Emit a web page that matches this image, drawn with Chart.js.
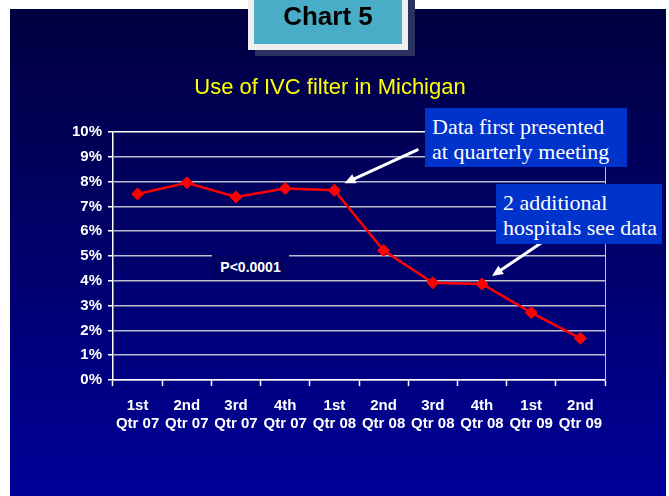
<!DOCTYPE html>
<html lang="en">
<head>
<meta charset="UTF-8">
<title>Chart 5</title>
<script src="https://cdn.jsdelivr.net/npm/chart.js@4.4.0/dist/chart.umd.min.js"></script>
<style>
html, body { margin: 0; padding: 0; background: #fff; }
#slide {
    position: relative;
    width: 669px;
    height: 496px;
    overflow: hidden;
    background: #fff;
}
#bg {
    position: absolute;
    left: 10px; top: 9px; width: 656px; height: 487px;
    background: linear-gradient(to bottom, #000040 0%, #00005e 35%, #000099 100%);
}
#myChart { position: absolute; left: 0; top: 0; }
#badge {
    position: absolute;
    left: 248px; top: -8px; width: 148px; height: 46px;
    background: #4aadc7;
    border: 6px solid #efefef;
    box-shadow: 7px 6px 0 #2a3060;
    font: bold 26px Arial, "Liberation Sans", sans-serif;
    color: #000;
    text-align: center;
    line-height: 36px;
}
#title {
    position: absolute;
    left: 0; width: 660px; top: 74px;
    text-align: center;
    color: #ffff00;
    font: 22px Arial, "Liberation Sans", sans-serif;
}
.note {
    position: absolute;
    background: #0033cc;
    color: #fff;
    font: 22px "Times New Roman", "Liberation Serif", serif;
    line-height: 25px;
    padding: 6px 7px;
    box-sizing: border-box;
    white-space: nowrap;
}
#pval {
    position: absolute;
    left: 212px; top: 255px; width: 77px; height: 25px;
    background: #000062;
    color: #fff;
    font: bold 14px Arial, "Liberation Sans", sans-serif;
    line-height: 25px;
    text-align: center;
}
</style>
</head>
<body>
<div id="slide">
    <div id="bg"></div>
    <canvas id="myChart" width="669" height="496"></canvas>
    <div id="badge">Chart 5</div>
    <div id="title">Use of IVC filter in Michigan</div>
    <div id="pval">P&lt;0.0001</div>
    <div class="note" style="left:425px; top:108px; width:202px; height:59px;">Data first presented<br>at quarterly meeting</div>
    <div class="note" style="left:496px; top:184px; width:166px; height:60px;">2 additional<br>hospitals see data</div>
</div>
<script>
// quarters shown on the x axis (two-line labels)
const quarters = [
    ['1st', 'Qtr 07'], ['2nd', 'Qtr 07'], ['3rd', 'Qtr 07'], ['4th', 'Qtr 07'],
    ['1st', 'Qtr 08'], ['2nd', 'Qtr 08'], ['3rd', 'Qtr 08'], ['4th', 'Qtr 08'],
    ['1st', 'Qtr 09'], ['2nd', 'Qtr 09']
];
// IVC filter use, percent
const ivcUse = [7.5, 7.95, 7.38, 7.72, 7.65, 5.22, 3.92, 3.87, 2.72, 1.68];
const yMin = 0;
const yMax = 10;
const yStep = 1;

const labelFont = { family: 'Arial, "Liberation Sans", sans-serif', size: 15, weight: 'bold' };

// arrows pointing at data points (index into ivcUse), offsets in px
const arrows = [
    { index: 4, head: [10, -7], tail: [74, -34] },
    { index: 7, head: [10, -8], tail: [58, -39] }
];

const extras = {
    id: 'extras',
    afterDraw(chart) {
        const ctx = chart.ctx;
        const area = chart.chartArea;
        const x = chart.scales.x, y = chart.scales.y;
        ctx.save();
        // right edge of plot area
        ctx.strokeStyle = '#c0c0c0';
        ctx.lineWidth = 1;
        ctx.beginPath();
        ctx.moveTo(area.right + 0.5, area.top);
        ctx.lineTo(area.right + 0.5, area.bottom);
        ctx.stroke();
        // arrows
        ctx.strokeStyle = '#fff';
        ctx.fillStyle = '#fff';
        ctx.lineWidth = 3;
        arrows.forEach(a => {
            const px = x.getPixelForValue(a.index);
            const py = y.getPixelForValue(ivcUse[a.index]);
            const hx = px + a.head[0], hy = py + a.head[1];
            const tx = hx + a.tail[0], ty = hy + a.tail[1];
            const ang = Math.atan2(hy - ty, hx - tx);
            ctx.beginPath();
            ctx.moveTo(tx, ty);
            ctx.lineTo(hx - 6 * Math.cos(ang), hy - 6 * Math.sin(ang));
            ctx.stroke();
            ctx.beginPath();
            ctx.moveTo(hx, hy);
            ctx.lineTo(hx - 11 * Math.cos(ang) + 5 * Math.sin(ang), hy - 11 * Math.sin(ang) - 5 * Math.cos(ang));
            ctx.lineTo(hx - 11 * Math.cos(ang) - 5 * Math.sin(ang), hy - 11 * Math.sin(ang) + 5 * Math.cos(ang));
            ctx.closePath();
            ctx.fill();
        });
        ctx.restore();
    }
};

new Chart(document.getElementById('myChart').getContext('2d'), {
    type: 'line',
    data: {
        labels: quarters,
        datasets: [{
            data: ivcUse,
            borderColor: '#ff0000',
            backgroundColor: '#ff0000',
            borderWidth: 2.5,
            pointStyle: 'rectRot',
            pointRadius: 6,
            pointBorderWidth: 1,
            fill: false,
            tension: 0
        }]
    },
    options: {
        responsive: false,
        animation: false,
        layout: { padding: { top: 132, right: 64, left: 0, bottom: 0 } },
        plugins: { legend: { display: false }, tooltip: { enabled: false } },
        scales: {
            x: {
                offset: true,
                grid: { offset: true, drawOnChartArea: false, tickLength: 6, tickColor: '#fff', tickWidth: 1.5 },
                border: { color: '#fff', width: 1.5 },
                ticks: { color: '#fff', font: labelFont, padding: 11, maxRotation: 0, autoSkip: false },
                afterFit(scale) { scale.height = 116; }
            },
            y: {
                min: yMin,
                max: yMax,
                ticks: {
                    stepSize: yStep,
                    color: '#fff',
                    font: labelFont,
                    padding: 6,
                    callback: v => v + '%'
                },
                grid: {
                    color: c => (c.tick && c.tick.value === yMax) ? '#ffffff' : '#bdbdcc',
                    lineWidth: 1.5,
                    tickLength: 5,
                    tickColor: '#fff'
                },
                border: { color: '#fff', width: 1.5 },
                afterFit(scale) { scale.width = 113; }
            }
        }
    },
    plugins: [extras]
});
</script>
</body>
</html>
